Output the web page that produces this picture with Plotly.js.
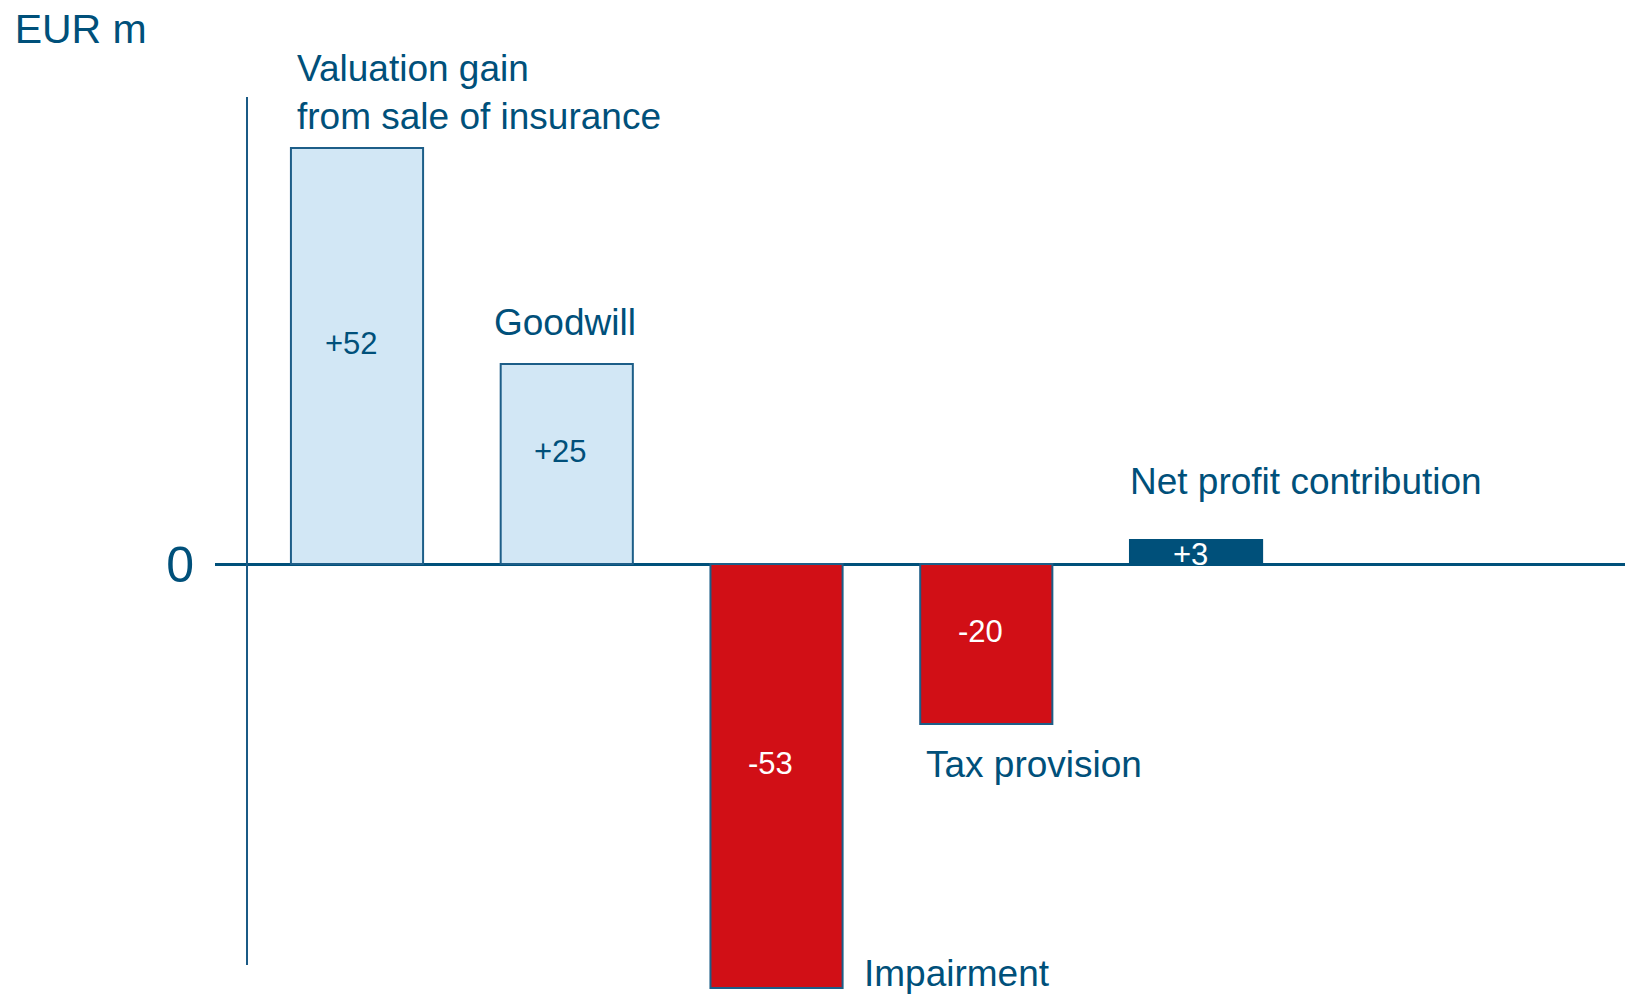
<!DOCTYPE html>
<html>
<head>
<meta charset="utf-8">
<script src="https://cdn.plot.ly/plotly-3.0.1.min.js"></script>
<style>
  html, body { margin: 0; padding: 0; background: #ffffff; }
  #chart { width: 1625px; height: 994px; }
</style>
</head>
<body>
<div id="chart"></div>
<script>
// Contributions to net profit, EUR m
var categories = ["Valuation gain<br>from sale of insurance", "Goodwill", "Impairment", "Tax provision", "Net profit contribution"];
var values = [52, 25, -53, -20, 3];
var valueLabels = ["+52", "+25", "-53", "-20", "+3"];
var yTickVals = [0];
var yTickText = ["0"];

var navy = "#00507a";
var fontFamily = "Liberation Sans, Arial, sans-serif";

// light blue for the gains, red for the charges, dark blue for the result
var fillColors = ["#d2e7f5", "#d2e7f5", "#d10f16", "#d10f16", "#00507a"];
var textColors = [navy, navy, "#ffffff", "#ffffff", "#ffffff"];
var lineColors = ["#1d5e88", "#1d5e88", "#1d5e88", "#1d5e88", "#00507a"];

var trace = {
    type: "bar",
    x: categories,
    y: values,
    width: 0.63,
    marker: {color: fillColors, line: {color: lineColors, width: 2}},
    hoverinfo: "skip"
};

// where each category name sits relative to its bar
var labelSpots = [
    {side: "above", edge: "left", xshift: 4, yshift: 9},
    {side: "above", edge: "left", xshift: -9, yshift: 19},
    {side: "belowRight", edge: "right", xshift: 19, yshift: -8},
    {side: "below", edge: "left", xshift: 4, yshift: -18},
    {side: "above", edge: "left", xshift: -2, yshift: 36}
];

var annotations = categories.map(function (name, i) {
    var spot = labelSpots[i];
    return {
        xref: "x", yref: "y",
        x: i + (spot.edge === "left" ? -0.315 : 0.315),
        y: values[i],
        xanchor: "left",
        yanchor: spot.side === "below" ? "top" : "bottom",
        xshift: spot.xshift,
        yshift: spot.yshift,
        text: name,
        align: "left",
        showarrow: false,
        font: {family: fontFamily, size: 37, color: navy}
    };
});

// value labels inside the bars, a little above the middle
valueLabels.forEach(function (lbl, i) {
    annotations.push({
        xref: "x", yref: "y",
        x: i,
        y: values[i] / 2,
        xshift: -6,
        yshift: Math.abs(values[i]) > 10 ? 13 : -2,
        text: lbl,
        showarrow: false,
        font: {family: fontFamily, size: 31, color: textColors[i]}
    });
});

var layout = {
    width: 1625,
    height: 994,
    margin: {l: 215, r: 0, t: 97, b: 0},
    paper_bgcolor: "#ffffff",
    plot_bgcolor: "#ffffff",
    showlegend: false,
    title: {
        text: "EUR m",
        font: {family: fontFamily, size: 41, color: navy},
        x: 0.009, xref: "container", xanchor: "left",
        y: 0.986, yref: "container", yanchor: "top"
    },
    xaxis: {
        range: [-0.677, 6.045],
        showticklabels: false,
        showgrid: false,
        zeroline: false,
        showline: false,
        ticks: "",
        fixedrange: true
    },
    yaxis: {
        range: [-53.75, 58.375],
        showgrid: false,
        zeroline: true,
        zerolinecolor: navy,
        zerolinewidth: 3,
        showline: false,
        tickvals: yTickVals,
        ticktext: yTickText,
        ticks: "",
        ticklabelstandoff: 20,
        tickfont: {family: fontFamily, size: 50, color: navy},
        fixedrange: true
    },
    shapes: [{
        type: "line",
        xref: "paper", yref: "paper",
        x0: 0.0227, x1: 0.0227,
        y0: 0.0323, y1: 1,
        line: {color: "#1a5a85", width: 2}
    }],
    annotations: annotations
};

Plotly.newPlot("chart", [trace], layout, {displayModeBar: false, staticPlot: true});
</script>
</body>
</html>
